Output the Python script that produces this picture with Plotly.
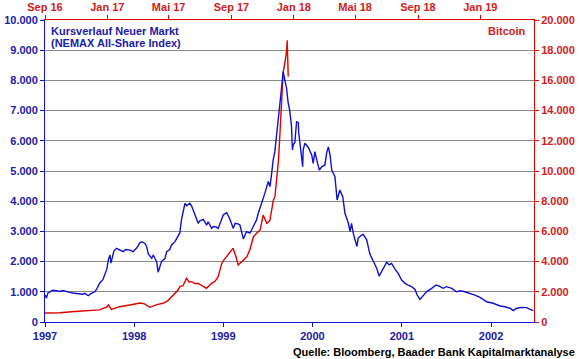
import plotly.graph_objects as go

# ---- NEMAX All-Share (bottom / left axes) ----
nemax_dates = [
    "1997-01-01", "1997-01-07", "1997-01-13", "1997-01-21", "1997-02-02", "1997-02-17",
    "1997-03-03", "1997-03-15", "1997-03-30", "1997-04-13", "1997-04-25", "1997-05-10",
    "1997-05-24", "1997-06-05", "1997-06-13", "1997-06-27", "1997-07-08", "1997-07-17",
    "1997-07-24", "1997-08-01", "1997-08-14", "1997-08-26", "1997-09-03", "1997-09-11",
    "1997-09-17", "1997-09-24", "1997-09-28", "1997-10-04", "1997-10-10", "1997-10-21",
    "1997-11-04", "1997-11-17", "1997-11-28", "1997-12-15", "1997-12-28", "1998-01-11",
    "1998-01-25", "1998-02-02", "1998-02-14", "1998-02-21", "1998-02-28", "1998-03-07",
    "1998-03-14", "1998-03-20", "1998-03-27", "1998-04-03", "1998-04-09", "1998-04-16",
    "1998-04-23", "1998-05-07", "1998-05-14", "1998-05-27", "1998-06-03", "1998-06-17",
    "1998-06-30", "1998-07-07", "1998-07-14", "1998-07-21", "1998-07-28", "1998-08-04",
    "1998-08-10", "1998-08-17", "1998-08-24", "1998-08-30", "1998-09-07", "1998-09-20",
    "1998-09-27", "1998-10-11", "1998-10-25", "1998-10-31", "1998-11-14", "1998-11-21",
    "1998-12-02", "1998-12-11", "1998-12-18", "1998-12-25", "1999-01-01", "1999-01-15",
    "1999-01-20", "1999-01-28", "1999-02-11", "1999-02-18", "1999-03-02", "1999-03-10",
    "1999-03-24", "1999-04-06", "1999-04-20", "1999-05-03", "1999-05-17", "1999-05-24",
    "1999-06-07", "1999-06-20", "1999-07-04", "1999-07-11", "1999-07-18", "1999-07-24",
    "1999-07-31", "1999-08-07", "1999-08-14", "1999-08-21", "1999-08-28", "1999-09-03",
    "1999-09-10", "1999-09-17", "1999-09-23", "1999-09-30", "1999-10-07", "1999-10-11",
    "1999-10-14", "1999-10-21", "1999-10-28", "1999-11-04", "1999-11-06", "1999-11-13",
    "1999-11-22", "1999-11-24", "1999-12-01", "1999-12-15", "1999-12-29", "2000-01-04",
    "2000-01-11", "2000-01-19", "2000-01-29", "2000-02-08", "2000-02-21", "2000-02-28",
    "2000-03-06", "2000-03-13", "2000-03-20", "2000-04-02", "2000-04-11", "2000-04-22",
    "2000-05-04", "2000-05-13", "2000-05-27", "2000-06-03", "2000-06-09", "2000-06-16",
    "2000-06-23", "2000-07-01", "2000-07-06", "2000-07-20", "2000-07-27", "2000-08-10",
    "2000-08-23", "2000-09-06", "2000-09-20", "2000-09-30", "2000-10-10", "2000-10-20",
    "2000-10-31", "2000-11-10", "2000-11-20", "2000-12-04", "2000-12-17", "2000-12-31",
    "2001-01-14", "2001-01-27", "2001-02-10", "2001-02-24", "2001-03-05", "2001-03-16",
    "2001-03-30", "2001-04-12", "2001-05-03", "2001-05-21", "2001-06-03", "2001-06-19",
    "2001-07-03", "2001-07-24", "2001-08-13", "2001-08-27", "2001-09-16", "2001-10-07",
    "2001-10-27", "2001-11-17", "2001-12-14", "2002-01-10", "2002-02-07", "2002-02-27",
    "2002-03-20", "2002-04-02", "2002-04-16", "2002-05-07", "2002-05-27", "2002-06-10",
    "2002-06-23",
]
nemax_values = [
    900, 790, 960, 1000, 1050, 1035,
    1010, 1040, 1000, 980, 960, 950,
    940, 920, 950, 870, 940, 970,
    1000, 1100, 1300, 1400, 1560, 1750,
    2050, 2220, 1950, 2200, 2350, 2440,
    2380, 2330, 2400, 2380, 2330, 2450,
    2630, 2660, 2600, 2500, 2250, 2160,
    2110, 2220, 2100, 2000, 1650, 1830,
    2000, 2100, 2330, 2400, 2550, 2660,
    2880, 2950, 3400, 3700, 3930, 3850,
    3875, 3930, 3850, 3700, 3550, 3270,
    3350, 3400, 3210, 3320, 3100, 3160,
    3150, 3100, 3250, 3400, 3550, 3620,
    3550, 3400, 3100, 3270, 3250, 3210,
    2750, 2990, 2940, 3150, 3380, 3600,
    3930, 4260, 4650, 4480, 4920, 5360,
    5640, 6140, 6690, 7130, 7790, 8290,
    8010, 7740, 7290, 7000, 6500, 5700,
    5860, 5950, 6630, 6600, 6250, 5800,
    5140, 5700, 5920, 5780, 5530, 5250,
    5640, 5350, 5030, 5140, 5200, 5600,
    5800, 5530, 5030, 4810, 4040, 4370,
    4150, 3600, 3270, 2990, 3270, 2940,
    2720, 2500, 2770, 2880, 2900, 2720,
    2250, 2020, 1780, 1520, 1665, 1830,
    1980, 1890, 1940, 1750, 1610, 1390,
    1280, 1225, 1170, 1080, 890, 750,
    890, 1000, 1115, 1225, 1190, 1115,
    1170, 1115, 1000, 1035, 1000, 950,
    890, 815, 670, 620, 530, 505,
    455, 375, 455, 485, 475, 420,
    375,
]

# ---- Bitcoin (top / right axes) ----
btc_dates = [
    "2016-09-01", "2016-09-30", "2016-10-29", "2016-11-28", "2016-12-17", "2016-12-31",
    "2017-01-03", "2017-01-09", "2017-01-25", "2017-02-14", "2017-03-06", "2017-03-15",
    "2017-03-25", "2017-04-08", "2017-04-20", "2017-04-29", "2017-05-10", "2017-05-19",
    "2017-05-23", "2017-05-29", "2017-06-05", "2017-06-10", "2017-06-15", "2017-06-21",
    "2017-06-28", "2017-07-05", "2017-07-14", "2017-07-19", "2017-07-24", "2017-07-31",
    "2017-08-06", "2017-08-09", "2017-08-13", "2017-08-17", "2017-08-22", "2017-08-29",
    "2017-09-04", "2017-09-10", "2017-09-14", "2017-09-21", "2017-10-01", "2017-10-07",
    "2017-10-14", "2017-10-20", "2017-10-27", "2017-11-02", "2017-11-09", "2017-11-15",
    "2017-11-22", "2017-11-25", "2017-11-28", "2017-12-02", "2017-12-05", "2017-12-08",
    "2017-12-11", "2017-12-15", "2017-12-18", "2017-12-19", "2017-12-21",
]
btc_values = [
    600, 610, 700, 740, 800, 1000,
    1126, 840, 1013, 1126, 1260, 1200,
    973, 1150, 1240, 1400, 1790, 2100,
    2340, 2400, 2890, 2650, 2670, 2550,
    2560, 2400, 2230, 2400, 2560, 2700,
    3000, 3400, 3890, 4100, 4320, 4660,
    4880, 4300, 3775, 3990, 4320, 4800,
    5650, 5870, 6100, 7085, 6535, 6700,
    8080, 8300, 9500, 10730, 12600, 14800,
    16500, 17300, 18000, 18650, 16250,
]

# ---- axis ticks ----
bottom_tickvals = ["1997-01-01", "1998-01-01", "1999-01-01", "2000-01-01", "2001-01-01", "2002-01-01"]
bottom_ticktext = ["1997", "1998", "1999", "2000", "2001", "2002"]
top_tickvals = ["2016-09-01", "2017-01-01", "2017-05-01", "2017-09-01",
                "2018-01-01", "2018-05-01", "2018-09-01", "2019-01-01"]
top_ticktext = ["Sep 16", "Jan 17", "Mai 17", "Sep 17", "Jan 18", "Mai 18", "Sep 18", "Jan 19"]

BLUE_LINE = "#1010D0"
BLUE_TXT = "#2020A8"
RED_LINE = "#E00000"
RED_TXT = "#D42020"
FONT = "Liberation Sans, Arial, sans-serif"

fig = go.Figure()
fig.add_trace(go.Scatter(x=btc_dates, y=btc_values, mode="lines",
                         line=dict(color=RED_LINE, width=1.4),
                         xaxis="x", yaxis="y", name="Bitcoin", hoverinfo="skip"))
fig.add_trace(go.Scatter(x=nemax_dates, y=nemax_values, mode="lines",
                         line=dict(color=BLUE_LINE, width=1.4),
                         xaxis="x2", yaxis="y2", name="NEMAX", hoverinfo="skip"))

tf_red = dict(family=FONT, size=11, color=RED_TXT, weight="bold")
tf_blue = dict(family=FONT, size=11, color=BLUE_TXT, weight="bold")

fig.update_layout(
    width=580, height=359,
    margin=dict(l=45, r=46, t=20, b=37, autoexpand=False),
    paper_bgcolor="white", plot_bgcolor="white",
    showlegend=False,
    separators=",.",
    xaxis=dict(type="date", side="top", range=["2016-09-01", "2019-04-16"],
               tickmode="array", tickvals=top_tickvals, ticktext=top_ticktext,
               tickfont=tf_red, showgrid=False, zeroline=False, automargin=False,
               showline=True, linecolor=RED_LINE, linewidth=1,
               ticks="outside", ticklen=4, tickcolor=RED_LINE, anchor="y"),
    yaxis=dict(side="right", range=[0, 20000], dtick=2000, tickformat=",.0f",
               tickfont=tf_red, showgrid=True, gridcolor="#8a8a8a", gridwidth=1,
               zeroline=False, showline=True, linecolor=RED_LINE, linewidth=1, automargin=False,
               ticks="outside", ticklen=4, tickcolor=RED_LINE, anchor="x"),
    xaxis2=dict(type="date", side="bottom", overlaying="x", range=["1997-01-01", "2002-06-26"],
                tickmode="array", tickvals=bottom_tickvals, ticktext=bottom_ticktext,
                tickfont=tf_blue, showgrid=False, zeroline=False, automargin=False,
                showline=True, linecolor=BLUE_LINE, linewidth=1,
                ticks="outside", ticklen=4, tickcolor=BLUE_LINE, anchor="y2"),
    yaxis2=dict(side="left", overlaying="y", range=[0, 10000], dtick=1000, tickformat=",.0f",
                tickfont=tf_blue, showgrid=False, zeroline=False, automargin=False,
                showline=True, linecolor=BLUE_LINE, linewidth=1,
                ticks="outside", ticklen=4, tickcolor=BLUE_LINE, anchor="x2"),
    annotations=[
        dict(text="Kursverlauf Neuer Markt", xref="paper", yref="paper",
             x=0.008, y=0.9652, xanchor="left", yanchor="middle", showarrow=False,
             font=dict(family=FONT, size=11, color=BLUE_TXT, weight="bold")),
        dict(text="(NEMAX All-Share Index)", xref="paper", yref="paper",
             x=0.008, y=0.9238, xanchor="left", yanchor="middle", showarrow=False,
             font=dict(family=FONT, size=11, color=BLUE_TXT, weight="bold")),
        dict(text="Bitcoin", xref="paper", yref="paper",
             x=0.9877, y=0.9646, xanchor="right", yanchor="middle", showarrow=False,
             font=dict(family=FONT, size=11, color=RED_TXT, weight="bold")),
        dict(text="Quelle: Bloomberg, Baader Bank Kapitalmarktanalyse", xref="paper", yref="paper",
             x=1.088, y=-0.098, xanchor="right", yanchor="middle", showarrow=False,
             font=dict(family=FONT, size=11, color="#000000", weight="bold")),
    ],
)

fig.write_html("out.html", config={"displayModeBar": False},
               post_script="document.body.style.margin='0px';document.body.style.overflow='hidden';")
